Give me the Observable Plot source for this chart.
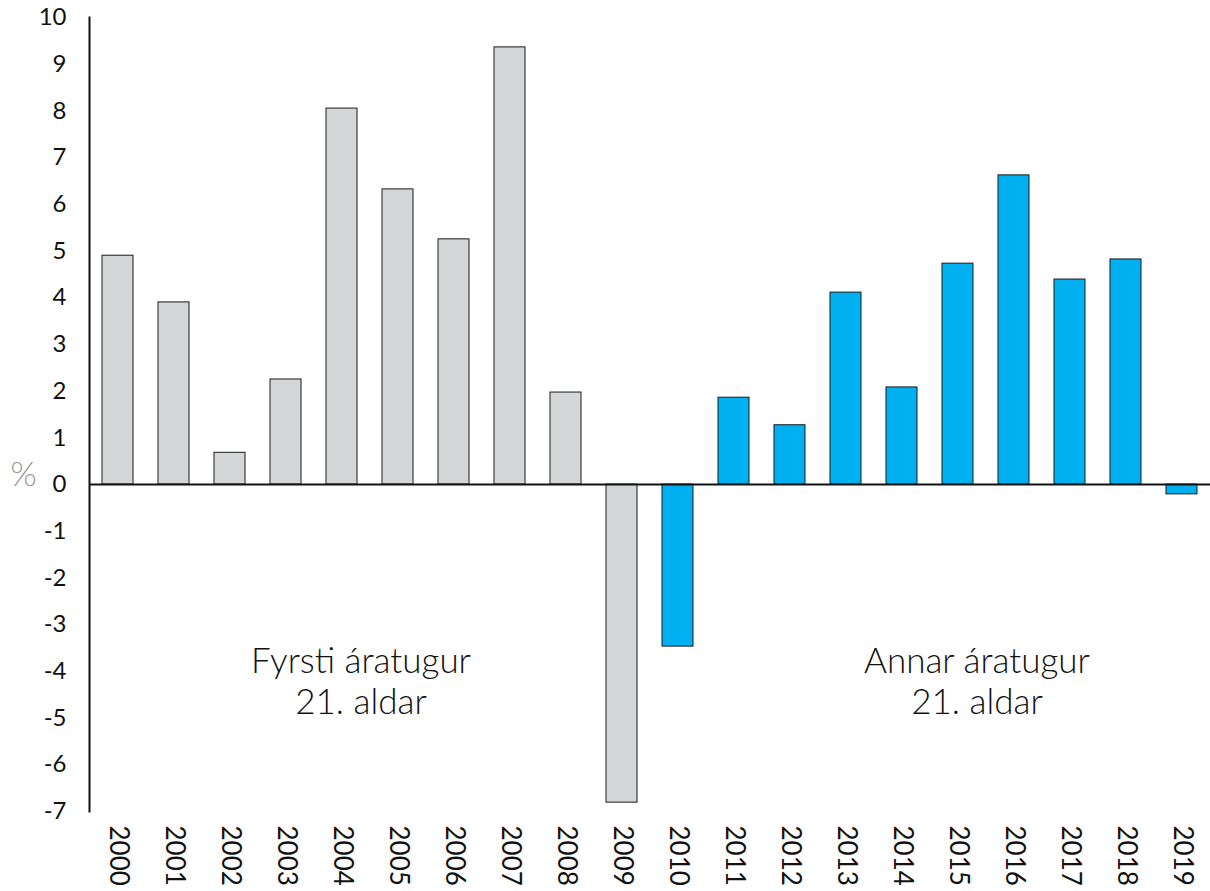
<!DOCTYPE html>
<html><head><meta charset="utf-8">
<script src="https://cdn.jsdelivr.net/npm/d3@7"></script>
<script src="https://cdn.jsdelivr.net/npm/@observablehq/plot@0.6"></script>
<style>body{margin:0;background:#fff;overflow:hidden}</style>
</head><body><div id="chart"></div>
<script>
const years = ["2000","2001","2002","2003","2004","2005","2006","2007","2008","2009","2010","2011","2012","2013","2014","2015","2016","2017","2018","2019"];
const values = [4.9, 3.9, 0.68, 2.25, 8.05, 6.32, 5.25, 9.36, 1.97, -6.81, -3.47, 1.86, 1.27, 4.11, 2.08, 4.73, 6.62, 4.39, 4.82, -0.21];
const decades = ["Fyrsti","Fyrsti","Fyrsti","Fyrsti","Fyrsti","Fyrsti","Fyrsti","Fyrsti","Fyrsti","Fyrsti","Annar","Annar","Annar","Annar","Annar","Annar","Annar","Annar","Annar","Annar"];
const yTicks = [-7,-6,-5,-4,-3,-2,-1,0,1,2,3,4,5,6,7,8,9,10];
const noteText = ["Fyrsti áratugur\n21. aldar", "Annar áratugur\n21. aldar"];
const noteYear = ["2004", "2015"];
const noteValue = [-4.2, -4.2];

const data = years.map((y, i) => ({year: y, value: values[i], decade: decades[i]}));
const notes = noteText.map((t, i) => ({text: t, year: noteYear[i], value: noteValue[i]}));

const chart = Plot.plot({
  width: 1210,
  height: 891,
  marginLeft: 89,
  marginRight: 0,
  marginTop: 17,
  marginBottom: 80,
  style: {fontFamily: "Lato, sans-serif", fontSize: "24px", color: "#111", background: "#fff"},
  x: {type: "band", domain: years, paddingInner: 0.45, paddingOuter: 0.225, label: null},
  y: {domain: [-7, 10], label: null},
  color: {domain: ["Fyrsti", "Annar"], range: ["#d5d6d8", "#00b0f0"]},
  marks: [
    Plot.barY(data, {x: "year", y: "value", fill: "decade", stroke: "#1a1a1a", strokeWidth: 1}),
    Plot.ruleY([0], {stroke: "#111", strokeWidth: 2}),
    Plot.frame({anchor: "left", stroke: "#111", strokeWidth: 2}),
    Plot.axisY({ticks: yTicks, tickSize: 0, tickPadding: 23, fontSize: 24, label: null, tickFormat: d => String(d)}),
    Plot.axisX({tickRotate: 90, tickSize: 0, tickPadding: 14, fontSize: 26, label: null}),
    Plot.text(notes, {x: "year", y: "value", text: "text", dx: 19, fontSize: 35, fontWeight: 300, lineHeight: 1.15, lineAnchor: "middle", fill: "#111"}),
    Plot.text(["%"], {frameAnchor: "left", y: [0], dx: -66, dy: -9, fontSize: 34, fontWeight: 300, fill: "#9a9a9a", textAnchor: "middle"})
  ]
});
document.getElementById("chart").appendChild(chart);
</script>
</body></html>
